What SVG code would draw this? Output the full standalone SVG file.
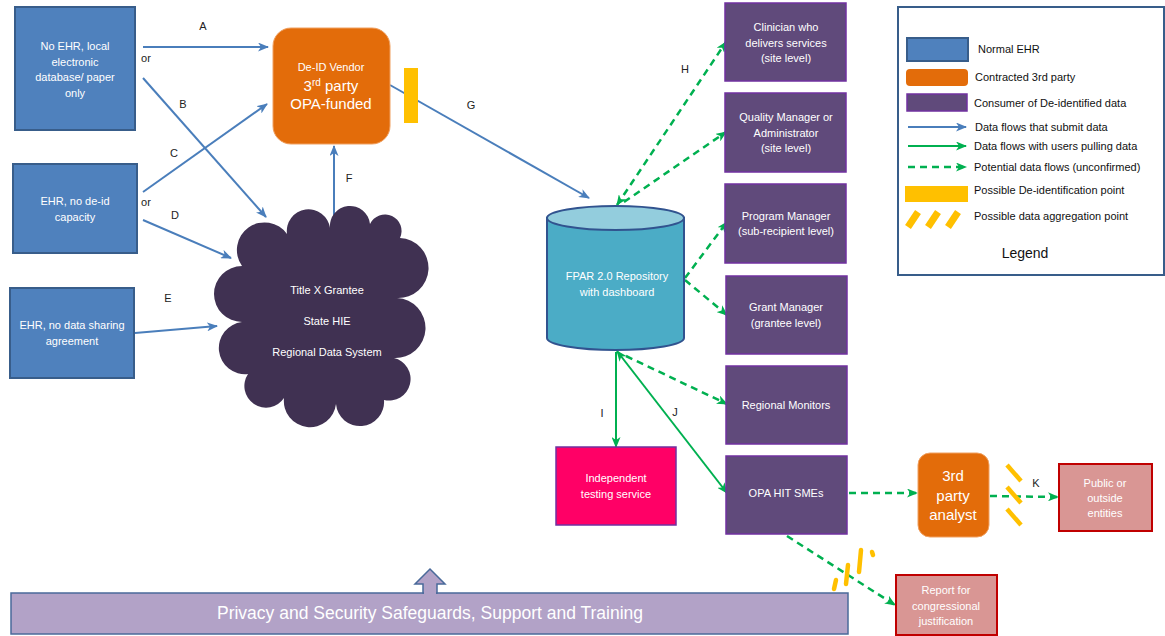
<svg xmlns="http://www.w3.org/2000/svg" width="1165" height="636" viewBox="0 0 1165 636">
<defs>
<style>
text{font-family:"Liberation Sans",Arial,sans-serif;}
.w{fill:#fff;font-size:11px;text-anchor:middle;}
.wl{fill:#fff;font-size:15px;text-anchor:middle;}
.lb{fill:#222;font-size:11px;text-anchor:middle;}
.lg{fill:#111;font-size:11px;}
.ehr{fill:#4f81bd;stroke:#385d8a;stroke-width:2;}
.cons{fill:#604a7b;stroke:#7030a0;stroke-width:1.5;}
.orng{fill:#e36c0a;stroke:#f0a060;stroke-width:1;}
.pub{fill:#d99694;stroke:#c00000;stroke-width:2;}
.blue{stroke:#4a7ebb;stroke-width:2;fill:none;}
.grn{stroke:#00b050;stroke-width:2;fill:none;}
.gd{stroke:#00b050;stroke-width:2.5;fill:none;stroke-dasharray:7,5;}
.hat{stroke:#ffc000;stroke-width:4.5;fill:none;}
</style>
<marker id="ab" markerWidth="11" markerHeight="9" refX="10" refY="4.5" orient="auto-start-reverse" markerUnits="userSpaceOnUse"><path d="M0,0 L11,4.5 L0,9 L3,4.5 Z" fill="#4a7ebb"/></marker>
<marker id="ag" markerWidth="11" markerHeight="9" refX="10" refY="4.5" orient="auto-start-reverse" markerUnits="userSpaceOnUse"><path d="M0,0 L11,4.5 L0,9 L3,4.5 Z" fill="#00b050"/></marker>
</defs>
<rect width="1165" height="636" fill="#fff"/>

<g id="connectors">
<line class="blue" x1="143" y1="47" x2="268" y2="47" marker-end="url(#ab)"/>
<line class="blue" x1="143" y1="78" x2="266" y2="217" marker-end="url(#ab)"/>
<line class="blue" x1="143" y1="192" x2="267" y2="104" marker-end="url(#ab)"/>
<line class="blue" x1="143" y1="220" x2="231" y2="258" marker-end="url(#ab)"/>
<line class="blue" x1="135" y1="333" x2="217" y2="326" marker-end="url(#ab)"/>
<line class="blue" x1="334" y1="222" x2="334" y2="146" marker-end="url(#ab)"/>
<line class="blue" x1="390" y1="85" x2="589" y2="198" marker-end="url(#ab)"/>
<line class="gd" x1="617" y1="205" x2="726" y2="42" marker-start="url(#ag)" marker-end="url(#ag)"/>
<line class="gd" x1="624" y1="202" x2="726" y2="132" marker-end="url(#ag)"/>
<line class="gd" x1="685" y1="278" x2="727" y2="222" marker-end="url(#ag)"/>
<line class="gd" x1="685" y1="280" x2="727" y2="315" marker-end="url(#ag)"/>
<line class="gd" x1="626" y1="356" x2="727" y2="404" marker-end="url(#ag)"/>
<line class="grn" x1="616" y1="352" x2="616" y2="447" marker-end="url(#ag)"/>
<line class="grn" x1="617" y1="351" x2="727" y2="493" marker-start="url(#ag)" marker-end="url(#ag)"/>
<line class="gd" x1="849" y1="493" x2="917" y2="493" marker-end="url(#ag)"/>
<line class="gd" x1="990" y1="496" x2="1058" y2="497" marker-end="url(#ag)"/>
<line class="gd" x1="787" y1="536" x2="895" y2="605" marker-end="url(#ag)"/>
<text class="lb" x="203" y="30">A</text>
<text class="lb" x="146" y="62">or</text>
<text class="lb" x="183" y="108">B</text>
<text class="lb" x="174" y="157">C</text>
<text class="lb" x="146" y="206">or</text>
<text class="lb" x="175" y="219">D</text>
<text class="lb" x="168" y="302">E</text>
<text class="lb" x="349" y="182">F</text>
<text class="lb" x="471" y="109">G</text>
<text class="lb" x="685" y="73">H</text>
<text class="lb" x="602" y="417">I</text>
<text class="lb" x="675" y="416">J</text>
<text class="lb" x="1036" y="487">K</text>
</g>

<g id="no-ehr">
<rect class="ehr" x="15" y="7" width="120" height="123"/>
<text class="w" x="75" y="50">No EHR, local</text>
<text class="w" x="75" y="66">electronic</text>
<text class="w" x="75" y="81">database/ paper</text>
<text class="w" x="75" y="97">only</text>
</g>
<g id="ehr-no-deid">
<rect class="ehr" x="13" y="164" width="124" height="89"/>
<text class="w" x="75" y="205">EHR, no de-id</text>
<text class="w" x="75" y="221">capacity</text>
</g>
<g id="ehr-no-sharing">
<rect class="ehr" x="10" y="288" width="124" height="90"/>
<text class="w" x="72" y="329">EHR, no data sharing</text>
<text class="w" x="72" y="345">agreement</text>
</g>

<g id="deid-vendor">
<rect class="orng" x="273" y="28" width="117" height="116" rx="18"/>
<text class="w" x="331" y="71">De-ID Vendor</text>
<text class="wl" x="331" y="91">3<tspan font-size="10" dy="-5">rd</tspan><tspan dy="5"> party</tspan></text>
<text class="wl" x="331" y="109">OPA-funded</text>
</g>
<g id="deid-point">
<rect x="404" y="68" width="14" height="55" fill="#ffc000"/>
</g>

<g id="grantee-cloud">
<path d="M242,266 A1,1 0 0 1 287,234 A1,1 0 0 1 330,228 A1,1 0 0 1 370,224 A1,1 0 0 1 400,238 A1,1 0 0 1 397,298 A1,1 0 0 1 394,358 A1,1 0 0 1 384,400 A1,1 0 0 1 336,404 A1,1 0 0 1 284,398 A1,1 0 0 1 248,374 A1,1 0 0 1 242,322 A1,1 0 0 1 242,266 Z" fill="#403152"/>
<text class="w" x="327" y="294">Title X Grantee</text>
<text class="w" x="327" y="325">State HIE</text>
<text class="w" x="327" y="356">Regional Data System</text>
</g>

<g id="repository">
<path d="M547,218 L547,338 A68.5,12 0 0 0 684,338 L684,218 Z" fill="#4bacc6" stroke="#31538f" stroke-width="2"/>
<ellipse cx="615.5" cy="218" rx="68.5" ry="12" fill="#93cddd" stroke="#31538f" stroke-width="2"/>
<text class="w" x="617" y="280">FPAR 2.0 Repository</text>
<text class="w" x="617" y="296">with dashboard</text>
</g>

<g id="clinician">
<rect class="cons" x="725" y="3" width="121" height="78"/>
<text class="w" x="786" y="31">Clinician who</text>
<text class="w" x="786" y="47">delivers services</text>
<text class="w" x="786" y="62">(site level)</text>
</g>
<g id="quality-manager">
<rect class="cons" x="725" y="93" width="121" height="79"/>
<text class="w" x="786" y="121">Quality Manager or</text>
<text class="w" x="786" y="137">Administrator</text>
<text class="w" x="786" y="152">(site level)</text>
</g>
<g id="program-manager">
<rect class="cons" x="725" y="184" width="121" height="79"/>
<text class="w" x="786" y="220">Program Manager</text>
<text class="w" x="786" y="235">(sub-recipient level)</text>
</g>
<g id="grant-manager">
<rect class="cons" x="726" y="276" width="121" height="78"/>
<text class="w" x="786" y="311">Grant Manager</text>
<text class="w" x="786" y="327">(grantee level)</text>
</g>
<g id="regional-monitors">
<rect class="cons" x="726" y="366" width="121" height="78"/>
<text class="w" x="786" y="409">Regional Monitors</text>
</g>
<g id="opa-hit">
<rect class="cons" x="726" y="456" width="121" height="78"/>
<text class="w" x="786" y="497">OPA HIT SMEs</text>
</g>
<g id="testing-service">
<rect x="556" y="447" width="120" height="78" fill="#ff0066" stroke="#7030a0" stroke-width="1.5"/>
<text class="w" x="616" y="482">Independent</text>
<text class="w" x="616" y="498">testing service</text>
</g>
<g id="third-party-analyst">
<rect class="orng" x="918" y="453" width="71" height="84" rx="12"/>
<text class="wl" x="953" y="481">3rd</text>
<text class="wl" x="953" y="501">party</text>
<text class="wl" x="953" y="520">analyst</text>
</g>
<g id="aggregation-k">
<line class="hat" x1="1007" y1="465" x2="1021" y2="481"/>
<line class="hat" x1="1007" y1="487" x2="1021" y2="503"/>
<line class="hat" x1="1007" y1="509" x2="1021" y2="525"/>
</g>
<g id="public-entities">
<rect class="pub" x="1059" y="464" width="93" height="67"/>
<text class="w" x="1105" y="487">Public or</text>
<text class="w" x="1105" y="502">outside</text>
<text class="w" x="1105" y="517">entities</text>
</g>
<g id="aggregation-report">
<line class="hat" x1="834" y1="589" x2="836" y2="580" stroke-linecap="round"/>
<line class="hat" x1="846" y1="584" x2="848" y2="565" stroke-linecap="round"/>
<line class="hat" x1="859" y1="572" x2="861" y2="550" stroke-linecap="round"/>
<line class="hat" x1="872" y1="552" x2="873" y2="555" stroke-linecap="round"/>
</g>
<g id="report">
<rect class="pub" x="896" y="575" width="101" height="60"/>
<text class="w" x="946" y="594">Report for</text>
<text class="w" x="946" y="610">congressional</text>
<text class="w" x="946" y="625">justification</text>
</g>

<g id="privacy-bar">
<rect x="11" y="593" width="837" height="41" fill="#b2a2c7" stroke="#4a6a9a" stroke-width="1.5"/>
<polygon points="423,593 423,584 415,584 430,569 445,584 437,584 437,593" fill="#b2a2c7" stroke="#4a6a9a" stroke-width="1.5"/>
<rect x="424" y="590" width="12" height="5" fill="#b2a2c7"/>
<text x="430" y="619" fill="#fff" font-size="17.5" text-anchor="middle">Privacy and Security Safeguards, Support and Training</text>
</g>

<g id="legend">
<rect x="898" y="7" width="266" height="268" fill="#fff" stroke="#385d8a" stroke-width="2"/>
<rect class="ehr" x="907" y="38" width="61" height="23"/>
<text class="lg" x="978" y="53">Normal EHR</text>
<rect x="906" y="69" width="62" height="17" rx="4" fill="#e36c0a"/>
<text class="lg" x="975" y="81">Contracted 3rd party</text>
<rect class="cons" x="907" y="94" width="60" height="17"/>
<text class="lg" x="974" y="107">Consumer of De-identified data</text>
<line class="blue" x1="908" y1="127" x2="966" y2="127" marker-end="url(#ab)"/>
<text class="lg" x="975" y="131">Data flows that submit data</text>
<line class="grn" x1="908" y1="146" x2="966" y2="146" marker-end="url(#ag)"/>
<text class="lg" x="974" y="150">Data flows with users pulling data</text>
<line class="gd" x1="908" y1="167" x2="966" y2="167" marker-end="url(#ag)"/>
<text class="lg" x="974" y="171">Potential data flows (unconfirmed)</text>
<rect x="905" y="186" width="63" height="16" fill="#ffc000"/>
<text class="lg" x="974" y="194">Possible De-identification point</text>
<g stroke="#ffc000" stroke-width="7" fill="none">
<line x1="908" y1="227" x2="918" y2="212"/>
<line x1="928" y1="227" x2="938" y2="212"/>
<line x1="948" y1="227" x2="958" y2="212"/>
</g>
<text class="lg" x="974" y="220">Possible data aggregation point</text>
<text x="1025" y="258" font-size="14" fill="#111" text-anchor="middle">Legend</text>
</g>
</svg>
